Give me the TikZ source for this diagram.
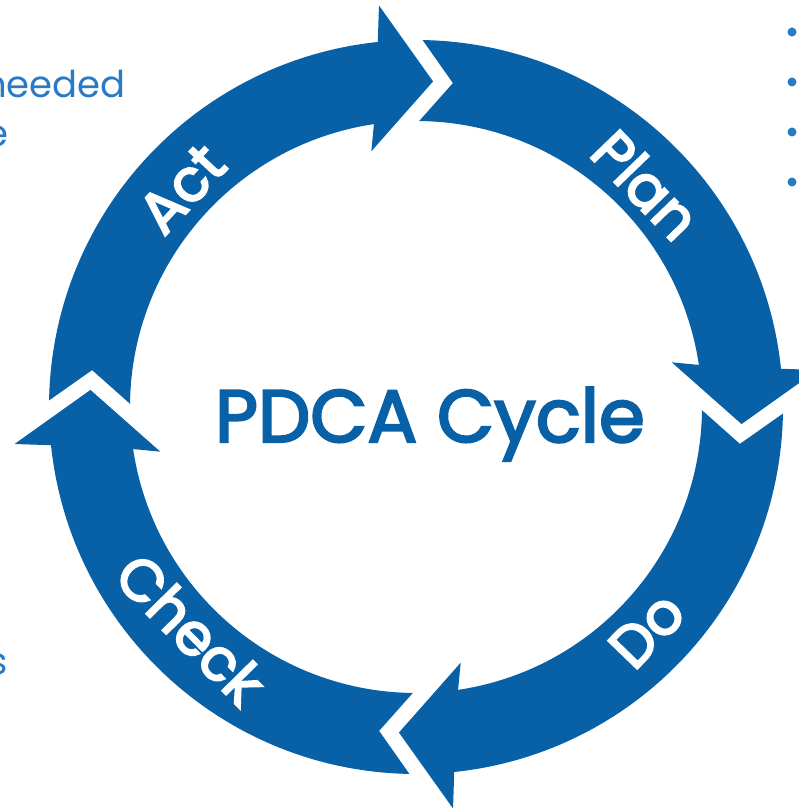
\documentclass[tikz,border=0pt]{standalone}
\usepackage{fontspec}
\setmainfont{Poppins}
\newfontfamily\labelfont{Poppins}[FakeBold=3.5]
\newfontfamily\titlefont{Poppins}[FakeBold=3]
\usetikzlibrary{calc}
\definecolor{ringblue}{RGB}{8,96,166}
\definecolor{sideblue}{RGB}{40,122,198}
\newcommand\ringarrow[1]{%
  \pgfmathsetmacro\tA{#1}%
  \pgfmathsetmacro\tP{#1+90}%
  \pgfmathsetmacro\aO{\tP+1.97}%
  \pgfmathsetmacro\bO{\tA+8.98}%
  \pgfmathsetmacro\wO{\tA+8.27}%
  \pgfmathsetmacro\wI{\tA+12.91}%
  \pgfmathsetmacro\bI{\tA+11.46}%
  \pgfmathsetmacro\aI{\tP+2.36}%
  \pgfmathsetmacro\aX{\tP-3.5}%
  \fill[ringblue] ($(C)+(\aO:367pt)$) arc[start angle=\aO, end angle=\bO, radius=367pt]
    -- ($(C)+(\wO:403.2pt)$) -- ($(C)+(\tA:326pt)$) -- ($(C)+(\wI:259.6pt)$)
    -- ($(C)+(\bI:286pt)$) arc[start angle=\bI, end angle=\aI, radius=286pt]
    -- ($(C)+(\aX:326pt)$) -- cycle;
}
\tikzset{
  ringlabel/.style={text=white, font=\labelfont\fontsize{58}{58}\selectfont, inner sep=0pt},
  sidetext/.style={text=sideblue, font=\fontsize{37}{37}\selectfont, inner sep=0pt},
  bulletdot/.style={fill=sideblue}
}
\begin{document}
\begin{tikzpicture}[x=1pt,y=1pt]
\useasboundingbox (0,0) rectangle (799,810);
\clip (0,0) rectangle (799,810);
\fill[white] (0,0) rectangle (799,810);
\coordinate (C) at (416,403);
\ringarrow{87}
\ringarrow{-3}
\ringarrow{-93}
\ringarrow{177}
\node[ringlabel, rotate=47] (act) at ($(C)+(137:320pt)$) {Act};
\node[ringlabel, rotate=-46] (plan) at ($(C)+(44:320pt)$) {Plan};
\node[ringlabel, rotate=46] (do) at ($(C)+(-44:321pt)$) {Do};
\node[ringlabel, rotate=-45.4] (check) at ($(C)+(-135.4:316pt)$) {Check};
\node[text=ringblue, font=\titlefont\fontsize{74}{74}\selectfont, inner sep=0pt, anchor=base] (title) at (430,368) {PDCA Cycle};
\node[sidetext, anchor=base east] (t1) at (126,712) {needed};
\node[sidetext, anchor=base east] (t2) at (9,663) {e};
\node[sidetext, anchor=base east] (t3) at (8,135) {s};
\foreach \i/\y in {1/778,2/728,3/678,4/628}
  \fill[bulletdot] (792,\y) circle[radius=4.5pt];
\end{tikzpicture}
\end{document}
